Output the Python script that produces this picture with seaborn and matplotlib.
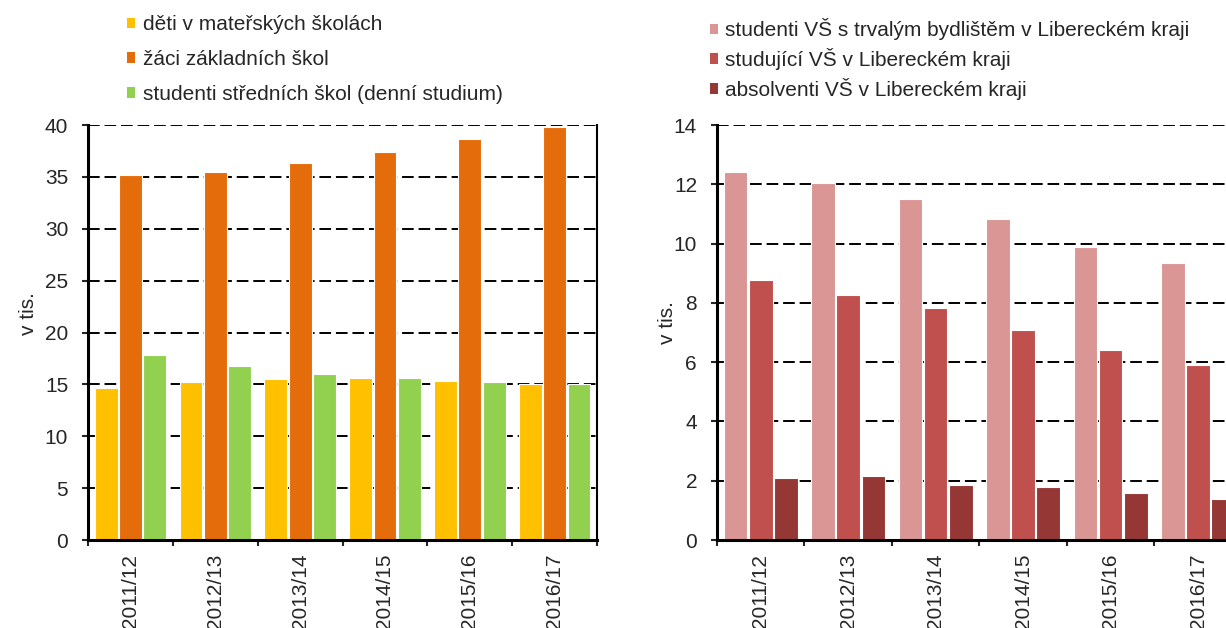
import pandas as pd
import matplotlib.pyplot as plt
import seaborn as sns
from matplotlib.patches import Patch

sns.set_style('ticks')
plt.rcParams['font.family'] = ['Liberation Sans', 'DejaVu Sans']

roky = ['2011/12', '2012/13', '2013/14', '2014/15', '2015/16', '2016/17']

# levy graf - zakladni a stredni skolstvi (v tis.)
ms_nazev = 'děti v mateřských školách'
zs_nazev = 'žáci základních škol'
ss_nazev = 'studenti středních škol (denní studium)'
ms = [14.7, 15.24, 15.53, 15.6, 15.37, 15.05]
zs = [35.22, 35.48, 36.38, 37.4, 38.65, 39.78]
ss = [17.85, 16.75, 16.04, 15.66, 15.27, 15.05]

# pravy graf - vysoke skoly (v tis.)
vs1_nazev = 'studenti VŠ s trvalým bydlištěm v Libereckém kraji'
vs2_nazev = 'studující VŠ v Libereckém kraji'
vs3_nazev = 'absolventi VŠ v Libereckém kraji'
vs1 = [12.41, 12.04, 11.49, 10.82, 9.9, 9.35]
vs2 = [8.76, 8.28, 7.83, 7.09, 6.40, 5.89]
vs3 = [2.10, 2.15, 1.85, 1.80, 1.58, 1.40]

barvy_skoly = ['#FFC000', '#E46C0A', '#92D050']
barvy_vs = ['#D99694', '#C0504D', '#953735']

FS = 15


def dlouha_tabulka(nazvy, rady):
    radky = []
    for nazev, rada in zip(nazvy, rady):
        for rok, hodnota in zip(roky, rada):
            radky.append({'rok': rok, 'hodnota': hodnota, 'skupina': nazev})
    return pd.DataFrame(radky)


def kresli(ax, df, nazvy, barvy, ymax, krok, leg_x, leg_y, leg_sp, lab_xy):
    sns.barplot(data=df, x='rok', y='hodnota', hue='skupina', hue_order=nazvy,
                palette=barvy, saturation=1, width=0.86, gap=0.06,
                edgecolor='white', linewidth=0.8, legend=False, ax=ax)
    ax.set_ylim(0, ymax)
    ax.set_xlim(-0.5, len(roky) - 0.5)
    ax.set_yticks(range(0, ymax + 1, krok))
    ax.set_axisbelow(True)
    ax.yaxis.grid(True, color='black', linestyle=(0, (6, 2.5)), linewidth=1.4)
    ax.xaxis.grid(False)

    ax.set_xticks(range(len(roky)))
    ax.set_xticklabels(roky, rotation=90, fontsize=FS)
    ax.set_xticks([i - 0.5 for i in range(len(roky) + 1)], minor=True)
    ax.tick_params(axis='x', which='major', length=0, pad=10)
    ax.tick_params(axis='x', which='minor', length=4.5, width=1.5, direction='out')
    ax.tick_params(axis='y', length=4.3, width=1.5, direction='out', labelsize=FS, pad=10)

    ax.set_xlabel('')
    ax.set_ylabel('v tis.', fontsize=FS)
    ax.yaxis.set_label_coords(*lab_xy)

    ax.spines['top'].set_visible(False)
    ax.spines['left'].set_linewidth(2.2)
    ax.spines['bottom'].set_linewidth(2.2)
    ax.spines['right'].set_linewidth(1.5)
    for s in ax.spines.values():
        s.set_color('black')

    handles = [Patch(facecolor=c, edgecolor='none') for c in barvy]
    ax.legend(handles, nazvy, loc='upper left', bbox_to_anchor=(leg_x, leg_y),
              bbox_transform=ax.figure.transFigure, frameon=False, fontsize=FS,
              handlelength=0.4, handleheight=0.4, handletextpad=0.35,
              labelspacing=leg_sp, borderaxespad=0, borderpad=0)


fig = plt.figure(figsize=(12.26, 6.28), dpi=100)
ax1 = fig.add_axes([0.0718, 0.1401, 0.4152, 0.6608])
ax2 = fig.add_axes([0.5848, 0.1401, 0.4282, 0.6608])

kresli(ax1, dlouha_tabulka([ms_nazev, zs_nazev, ss_nazev], [ms, zs, ss]),
       [ms_nazev, zs_nazev, ss_nazev], barvy_skoly, 40, 5,
       0.1036, 0.9756, 0.76, (-0.098, 0.545))
kresli(ax2, dlouha_tabulka([vs1_nazev, vs2_nazev, vs3_nazev], [vs1, vs2, vs3]),
       [vs1_nazev, vs2_nazev, vs3_nazev], barvy_vs, 14, 2,
       0.5790, 0.9709, 0.38, (-0.0764, 0.523))

fig.savefig('out.png', dpi=100)
